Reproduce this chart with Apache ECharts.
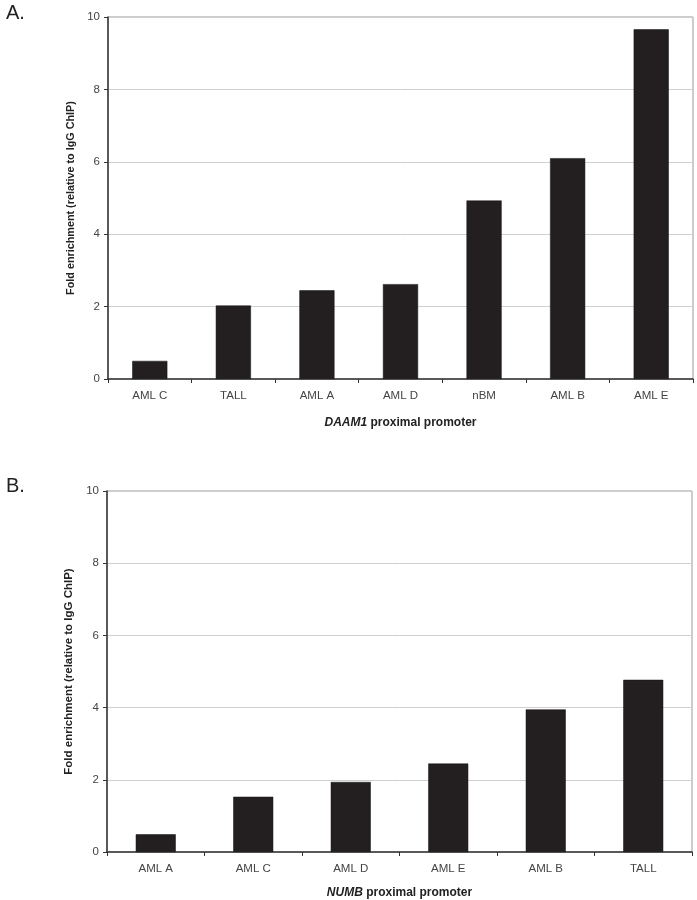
<!DOCTYPE html>
<html><head><meta charset="utf-8">
<script src="https://cdn.jsdelivr.net/npm/echarts@6/dist/echarts.min.js"></script>
<style>html,body{margin:0;padding:0;background:#fff}#c{width:697px;height:900px}</style>
</head><body><div id="c"></div>
<script>
const catsA = ['AML C','TALL','AML A','AML D','nBM','AML B','AML E'];
const valsA = [0.5, 2.03, 2.45, 2.62, 4.93, 6.1, 9.66];
const catsB = ['AML A','AML C','AML D','AML E','AML B','TALL'];
const valsB = [0.49, 1.53, 1.94, 2.45, 3.95, 4.77];
const yTicks = [0, 2, 4, 6, 8, 10];

const chart = echarts.init(document.getElementById('c'));
const font = 'Liberation Sans, Arial, sans-serif';
function xAx(idx, cats, gene, gap){
  return {type:'category', gridIndex:idx, data:cats,
    axisLine:{lineStyle:{color:'#333', width:1.5}},
    axisTick:{show:true, inside:false, length:4, lineStyle:{color:'#333'}},
    axisLabel:{color:'#444', fontSize:11.5, fontFamily:font, margin:11},
    name:'{g|'+gene+'} {p|proximal promoter}', nameLocation:'middle', nameGap:gap,
    nameTextStyle:{rich:{
      g:{fontStyle:'italic', fontWeight:'bold', fontSize:12, fontFamily:font, color:'#222'},
      p:{fontWeight:'bold', fontSize:12, fontFamily:font, color:'#222'}}}
  };
}
function yAx(idx, fs){
  return {type:'value', gridIndex:idx, min:0, max:10, interval:2,
    axisLine:{show:true, lineStyle:{color:'#333', width:1.5}},
    axisTick:{show:true, length:4, lineStyle:{color:'#333'}},
    axisLabel:{color:'#444', fontSize:11.5, fontFamily:font, margin:8},
    splitLine:{lineStyle:{color:'#cfcfcf', width:1}},
    name:'Fold enrichment (relative to IgG ChIP)', nameLocation:'middle', nameGap:24,
    nameTextStyle:{fontWeight:'bold', fontSize:fs, fontFamily:font, color:'#222'}
  };
}
const barStyle = {color:'#231f20', borderColor:'#111', borderWidth:0.5};
chart.setOption({
  animation:false,
  grid:[
    {left:108, top:17, width:585, height:362, show:true, borderColor:'#999', borderWidth:1},
    {left:107, top:491, width:585, height:363, show:true, borderColor:'#999', borderWidth:1}
  ],
  xAxis:[xAx(0, catsA, 'DAAM1', 38), xAx(1, catsB, 'NUMB', 35)],
  yAxis:[yAx(0, 10.8), yAx(1, 11.5)],
  series:[
    {type:'bar', xAxisIndex:0, yAxisIndex:0, data:valsA, barWidth:'42%', itemStyle:barStyle},
    {type:'bar', xAxisIndex:1, yAxisIndex:1, data:valsB, barWidth:'41%', itemStyle:barStyle}
  ],
  graphic:[
    {type:'text', left:6, top:3, style:{text:'A.', fontSize:20, fontFamily:font, fill:'#222'}},
    {type:'text', left:6, top:476, style:{text:'B.', fontSize:20, fontFamily:font, fill:'#222'}}
  ]
});
</script></body></html>
